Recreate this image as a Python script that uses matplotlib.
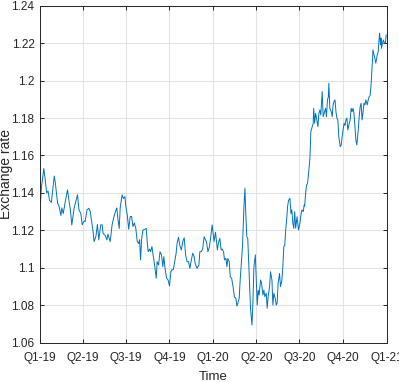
import matplotlib
matplotlib.use('Agg')
import matplotlib.pyplot as plt
import matplotlib.ticker as mticker
import numpy as np
import pandas as pd

# days since 2019-01-01 and exchange rate
day = [1, 3, 8, 11, 14, 17, 20, 24, 30, 32, 37, 40, 44, 46, 49, 53, 58, 61, 64, 67,
       72, 76, 79, 82, 86, 89, 93, 95, 99, 103, 106, 110, 112, 114, 118, 121, 124, 128,
       131, 133, 138, 141, 143, 148, 152, 155, 159, 162, 164, 167, 169, 173, 176, 179,
       181, 184, 187, 190, 193, 196, 199, 202, 205, 208, 210, 212, 214, 217, 221, 224,
       226, 228, 231, 233, 236, 239, 242, 245, 247, 250, 253, 256, 259, 261, 264, 267,
       270, 273, 276, 278, 281, 284, 287, 289, 292, 295, 298, 301, 304, 307, 310, 313,
       316, 319, 322, 325, 327, 331, 335, 337, 340, 343, 346, 349, 351, 354, 357, 360,
       363, 367, 370, 372, 374, 376, 379, 382, 384, 387, 389, 392, 394, 396, 399, 401,
       404, 407, 410, 413, 415, 417, 420, 422, 425, 427, 430, 432, 434, 436, 438, 440,
       442, 444, 447, 449, 451, 454, 456, 458, 460, 462, 465, 467, 470, 472, 474, 477,
       479, 481, 484, 486, 489, 491, 493, 496, 498, 500, 502, 505, 507, 510, 512, 514,
       516, 518, 520, 522, 524, 527, 529, 531, 533, 535, 537, 539, 542, 545, 548, 550,
       552, 555, 557, 558, 560, 562, 564, 567, 569, 570, 571, 573, 576, 577, 579, 581,
       583, 586, 588, 590, 592, 594, 595, 597, 599, 602, 604, 606, 608, 609, 611, 614,
       616, 618, 620, 622, 624, 626, 628, 630, 633, 635, 637, 639, 641, 643, 645, 647,
       649, 652, 654, 656, 658, 660, 662, 664, 666, 668, 671, 673, 675, 677, 679, 681,
       683, 685, 687, 690, 692, 694, 696, 698, 699, 701, 702, 704, 706, 708, 711, 713,
       715, 716, 718, 719, 720, 722, 724, 726, 728, 730]
rate = [1.135, 1.143, 1.153, 1.147, 1.140, 1.141, 1.136, 1.135, 1.149, 1.146, 1.1345,
        1.133, 1.128, 1.132, 1.129, 1.135, 1.1416, 1.136, 1.131, 1.1229, 1.132, 1.136,
        1.139, 1.131, 1.129, 1.123, 1.125, 1.1247, 1.1309, 1.1318, 1.130, 1.1229, 1.119,
        1.114, 1.117, 1.1232, 1.1149, 1.1229, 1.123, 1.1184, 1.117, 1.1149, 1.118, 1.114,
        1.123, 1.1265, 1.130, 1.132, 1.1265, 1.121, 1.132, 1.1389, 1.137, 1.138,
        1.1327, 1.1282, 1.1206, 1.1273, 1.1275, 1.122, 1.124, 1.121, 1.114, 1.113, 1.115,
        1.1042, 1.115, 1.1202, 1.1206, 1.121, 1.114, 1.1086, 1.110, 1.1086, 1.1113, 1.106,
        1.1006, 1.0944, 1.1033, 1.1015, 1.1086, 1.107, 1.1006, 1.106, 1.0989, 1.0944,
        1.0935, 1.0903, 1.098, 1.099, 1.099, 1.1033, 1.1078, 1.1131, 1.1163, 1.1117,
        1.1095, 1.114, 1.116, 1.1068, 1.1033, 1.1033, 1.0997, 1.1042, 1.1078, 1.106,
        1.1024, 1.0997, 1.1015, 1.1086, 1.1086, 1.110, 1.1166, 1.1148, 1.114, 1.1086,
        1.111, 1.1166, 1.1229, 1.114, 1.119, 1.114, 1.1095, 1.113, 1.1158, 1.1095, 1.110,
        1.1086, 1.1042, 1.105, 1.1006, 1.105, 1.1033, 1.0953, 1.0944, 1.0899, 1.0843,
        1.0838, 1.0796, 1.081, 1.0837, 1.0935, 1.1042, 1.1122, 1.1327, 1.1425, 1.128,
        1.1166, 1.1158, 1.1024, 1.0899, 1.0775, 1.0695, 1.0828, 1.1006, 1.1069, 1.0935,
        1.0801, 1.088, 1.0855, 1.0935, 1.092, 1.0855, 1.088, 1.0846, 1.0864, 1.0784,
        1.0846, 1.0899, 1.0979, 1.0935, 1.0801, 1.0864, 1.0837, 1.0801, 1.081, 1.0917,
        1.097, 1.0899, 1.0935, 1.1006, 1.1113, 1.112, 1.1202, 1.1255, 1.1327, 1.136,
        1.1371, 1.129, 1.131, 1.1238, 1.1211, 1.130, 1.1211, 1.1273, 1.1202, 1.1238,
        1.128, 1.1309, 1.130, 1.1336, 1.133, 1.1398, 1.1443, 1.145, 1.1523, 1.1585,
        1.1647, 1.1727, 1.1745, 1.1772, 1.1852, 1.1772, 1.1825, 1.180, 1.1754, 1.1825,
        1.1843, 1.1816, 1.1897, 1.1941, 1.1807, 1.1825, 1.1852, 1.1807, 1.1897, 1.1914,
        1.1986, 1.1852, 1.1834, 1.1807, 1.187, 1.1888, 1.1897, 1.1834, 1.180, 1.1789,
        1.170, 1.1647, 1.1655, 1.170, 1.1736, 1.1772, 1.176, 1.179, 1.180, 1.1736, 1.1772,
        1.179, 1.1852, 1.1834, 1.1852, 1.1825, 1.1754, 1.1683, 1.1656, 1.1736, 1.1807,
        1.1861, 1.1879, 1.179, 1.183, 1.1879, 1.187, 1.1897, 1.187, 1.1897, 1.1914,
        1.192, 1.1977, 1.2021, 1.211, 1.2164, 1.214, 1.2119, 1.2093, 1.2137, 1.2155,
        1.2226, 1.2253, 1.2191, 1.2226, 1.2173, 1.220, 1.2217, 1.220, 1.220, 1.2244]

quarter_starts = ['2019-01-01', '2019-04-01', '2019-07-01', '2019-10-01', '2020-01-01',
                  '2020-04-01', '2020-07-01', '2020-10-01', '2021-01-01']
quarter_labels = ['Q1-19', 'Q2-19', 'Q3-19', 'Q4-19', 'Q1-20', 'Q2-20', 'Q3-20', 'Q4-20', 'Q1-21']
y_ticks = [1.06, 1.08, 1.10, 1.12, 1.14, 1.16, 1.18, 1.20, 1.22, 1.24]

plt.rcParams['font.family'] = ['Liberation Sans', 'DejaVu Sans']

dates = pd.Timestamp('2019-01-01') + pd.to_timedelta(day, unit='D')
qticks = pd.to_datetime(quarter_starts)

fig = plt.figure(figsize=(3.99, 3.82), dpi=100)
ax = fig.add_axes([0.1003, 0.1029, 0.8689, 0.8822])

ax.plot(dates, rate, color='#0072BD', lw=0.7)

ax.set_xlim(qticks[0], qticks[-1])
ax.set_ylim(1.06, 1.24)
ax.set_xticks(qticks)
ax.set_xticklabels(quarter_labels)
ax.set_yticks(y_ticks)
ax.yaxis.set_major_formatter(mticker.FormatStrFormatter('%g'))

ax.grid(True, color='#e3e3e3', lw=0.8)
ax.set_axisbelow(True)
ax.tick_params(direction='in', length=3, width=0.7, colors='#262626',
               labelsize=8.5, top=True, right=True)
ax.tick_params(axis='x', pad=7)
ax.tick_params(axis='y', pad=4)
for s in ax.spines.values():
    s.set_color('#262626')
    s.set_linewidth(0.7)

ax.set_xlabel('Time', fontsize=9.5, color='#262626', labelpad=5)
ax.set_ylabel('Exchange rate', fontsize=10, color='#262626')
ax.yaxis.set_label_coords(-0.079, 0.5)

fig.savefig('out.png', dpi=100)
